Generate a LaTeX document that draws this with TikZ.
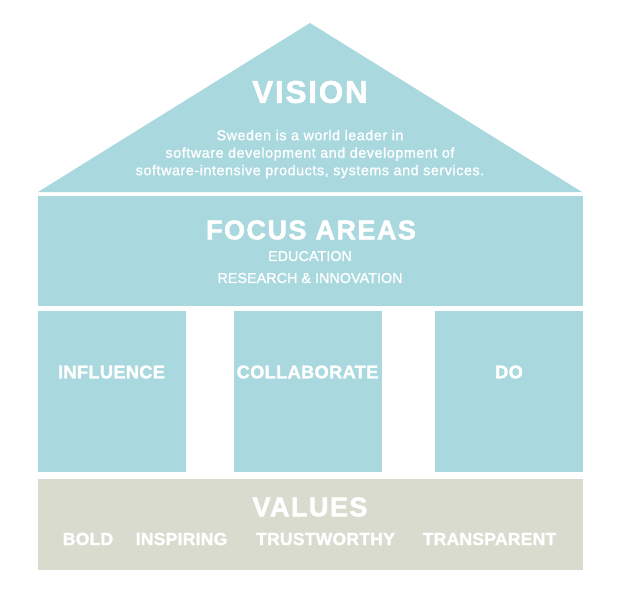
\documentclass[tikz,border=0pt]{standalone}
\usepackage{fontspec}
\setmainfont{Liberation Sans}
\newfontfamily\blackfont{Liberation Sans}[UprightFont={* Bold}, FakeBold=1.6, LetterSpace=1.5]
\newfontfamily\wideblackfont{Liberation Sans}[UprightFont={* Bold}, FakeBold=1.8, LetterSpace=5.5]
\newfontfamily\mediumfont{Liberation Sans}[FakeBold=1.2, LetterSpace=4]
\newfontfamily\capsfont{Liberation Sans}[FakeBold=1.2, LetterSpace=0.5]
\usetikzlibrary{shapes,positioning}
\definecolor{houseblue}{HTML}{A9D9DE}
\definecolor{valuegrey}{HTML}{DADBCF}

\begin{document}
\begin{tikzpicture}[x=1pt, y=-1pt, inner sep=0pt, text=white]
        \tikzstyle{block} = [rectangle, fill=houseblue, minimum width=148pt, minimum height=161pt]
        \tikzstyle{big} = [font=\wideblackfont\fontsize{27}{27}\selectfont]
        \tikzstyle{pillartext} = [font=\blackfont\fontsize{18.3}{18.3}\selectfont]
        \tikzstyle{small} = [font=\capsfont\fontsize{14.3}{14.3}\selectfont]
        \tikzstyle{valuetext} = [font=\blackfont\fontsize{17.5}{17.5}\selectfont]

        \useasboundingbox (0,0) rectangle (620,600);

        % Roof
        \fill [houseblue] (38,192) -- (310,23) -- (582,192) -- cycle;
        \node [big, font=\wideblackfont\fontsize{31.5}{31.5}\selectfont] (vision) at (310,92) {VISION};
        \node [font=\mediumfont\fontsize{14.3}{17.5}\selectfont, align=center] (mission) at (310,154)
            {Sweden is a world leader in\\software development and development of\\software-intensive products, systems and services.};

        % Focus areas
        \node [block, minimum width=545pt, minimum height=110pt] (focus) at (310,251) {};
        \node [big] (focustitle) at (311,230) {FOCUS AREAS};
        \node [small] (education) at (310,256) {EDUCATION};
        \node [small] (research) at (310,278) {RESEARCH \& INNOVATION};

        % Pillars
        \node [block] (influence) at (111.5,391.5) {};
        \node [block] (collaborate) at (307.5,391.5) {};
        \node [block] (do) at (509,391.5) {};
        \node [pillartext] at (influence |- 0,372) {INFLUENCE};
        \node [pillartext] at (collaborate |- 0,372) {COLLABORATE};
        \node [pillartext] at (do |- 0,372) {DO};

        % Values
        \node [rectangle, fill=valuegrey, minimum width=545pt, minimum height=91pt] (values) at (310,524.5) {};
        \node [big] (valuestitle) at (310,507) {VALUES};
        \node [valuetext] (bold) at (88,539) {BOLD};
        \node [valuetext] (inspiring) at (181.5,539) {INSPIRING};
        \node [valuetext] (trustworthy) at (325.5,539) {TRUSTWORTHY};
        \node [valuetext] (transparent) at (489.5,539) {TRANSPARENT};
    \end{tikzpicture}
\end{document}
